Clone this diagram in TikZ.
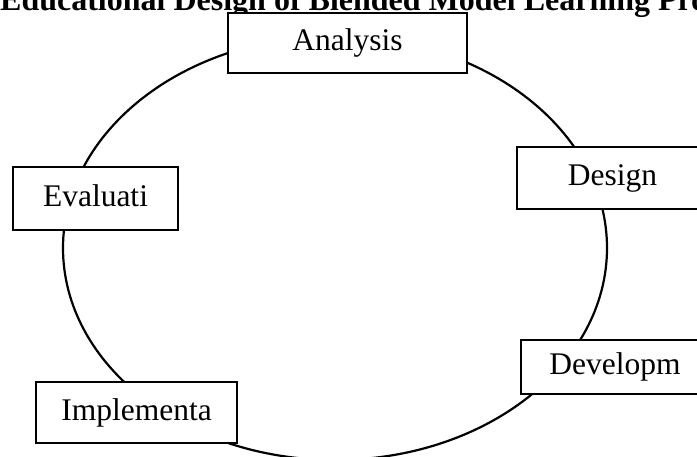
\documentclass[tikz,border=0pt]{standalone}
\usepackage{fontspec}
\setmainfont{Liberation Serif}
\begin{document}
\begin{tikzpicture}[x=1pt,y=-1pt,
  stagebox/.style={draw=black, line width=2.3pt, fill=white, inner sep=0pt,
    text height=22pt, text depth=7pt, align=center,
    font=\fontsize{31.5}{36}\selectfont},
  cycleline/.style={draw=black, line width=2.2pt},
  titletext/.style={inner sep=0pt, anchor=base west, font=\bfseries\fontsize{32}{36}\selectfont}]
\useasboundingbox (0,0) rectangle (697,456);
\clip (0,0) rectangle (697,456);
\fill[white] (0,0) rectangle (697,456);
% cycle
\draw[cycleline] (335,248) ellipse [x radius=272pt, y radius=212pt];
% title
\node[titletext] (title) at (0,10) {Educational Design of Blended Model Learning Process};
% stages
\node[stagebox, minimum width=239pt, minimum height=60pt] (analysis) at (347.5,43) {Analysis};
\node[stagebox, minimum width=191pt, minimum height=62pt] (design) at (612.5,178) {Design};
\node[stagebox, minimum width=188pt, minimum height=54pt] (develop) at (615,367) {Developm};
\node[stagebox, minimum width=201pt, minimum height=61pt] (implement) at (136.5,412.5) {Implementa};
\node[stagebox, minimum width=165pt, minimum height=63pt] (evaluate) at (95.5,198.5) {Evaluati};
\end{tikzpicture}
\end{document}
